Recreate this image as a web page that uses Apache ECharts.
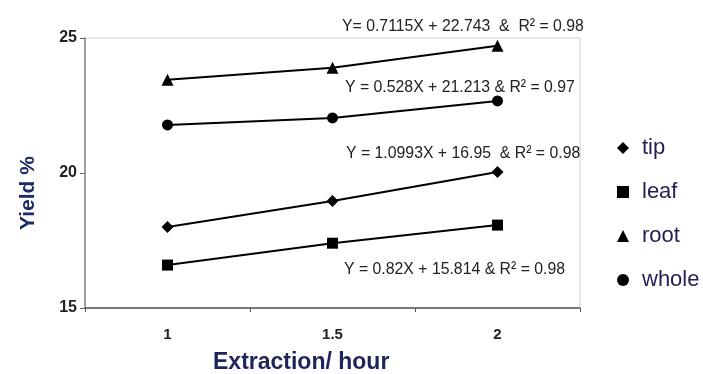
<!DOCTYPE html>
<html>
<head>
<meta charset="utf-8">
<script src="https://cdn.jsdelivr.net/npm/echarts@6/dist/echarts.min.js"></script>
<style>html,body{margin:0;padding:0;background:#fff;}#c{width:703px;height:374px;}</style>
</head>
<body>
<div id="c"></div>
<script>
const categories = ['1', '1.5', '2'];
const tip = [18.0, 18.96, 20.04];
const leaf = [16.59, 17.40, 18.07];
const root = [23.45, 23.90, 24.71];
const whole = [21.78, 22.04, 22.67];
const yTicks = [15, 20, 25];
const equations = [
  'Y= 0.7115X + 22.743  &  R\u00B2 = 0.98',
  'Y = 0.528X + 21.213 & R\u00B2 = 0.97',
  'Y = 1.0993X + 16.95  & R\u00B2 = 0.98',
  'Y = 0.82X + 15.814 & R\u00B2 = 0.98'
];

const chart = echarts.init(document.getElementById('c'), null, {renderer: 'canvas'});
const eqFont = '"Liberation Sans", Arial, sans-serif';
const eqPos = [[342, 18], [345, 79], [346, 145], [344, 261]];
function eqText(i) {
  return {
    type: 'text', x: eqPos[i][0], y: eqPos[i][1], scaleX: 0.93,
    style: { text: equations[i], fill: '#222', font: '17px ' + eqFont }
  };
}
function mk(name, data, symbol, size) {
  return {
    name: name, type: 'line', data: data, symbol: symbol, symbolSize: size,
    lineStyle: {color: '#000', width: 2}, itemStyle: {color: '#000'},
    showAllSymbol: true, animation: false
  };
}
chart.setOption({
  animation: false,
  backgroundColor: '#fff',
  grid: {left: 85, right: 123, top: 38, bottom: 66, show: true, borderColor: '#cfcfcf', borderWidth: 1, backgroundColor: 'transparent'},
  xAxis: {
    type: 'category', data: categories, boundaryGap: true,
    axisLine: {lineStyle: {color: '#555', width: 1.5}},
    axisTick: {show: true, length: 4, lineStyle: {color: '#555'}},
    axisLabel: {color: '#222', fontSize: 15, fontWeight: 'bold', fontFamily: 'Liberation Sans, Arial, sans-serif', margin: 19},
    splitLine: {show: false}
  },
  yAxis: {
    type: 'value', min: 15, max: 25, interval: 5,
    axisLine: {show: true, lineStyle: {color: '#888', width: 1.5}},
    axisTick: {show: true, length: 5, lineStyle: {color: '#666'}},
    axisLabel: {color: '#222', fontSize: 16, fontWeight: 'bold', fontFamily: 'Liberation Sans, Arial, sans-serif', margin: 8,
      formatter: v => yTicks.includes(v) ? String(v) : ''},
    splitLine: {show: false}
  },
  legend: {
    orient: 'vertical', left: 612, top: 131, itemGap: 20, itemWidth: 12, itemHeight: 12,
    textStyle: {color: '#211f55', fontSize: 22, fontFamily: 'Liberation Sans, Arial, sans-serif', lineHeight: 24, padding: [0, 0, 0, 8]},
    data: [
      {name: 'tip', icon: 'diamond'},
      {name: 'leaf', icon: 'rect'},
      {name: 'root', icon: 'triangle'},
      {name: 'whole', icon: 'circle'}
    ]
  },
  series: [
    mk('tip', tip, 'diamond', 12),
    mk('leaf', leaf, 'rect', 11),
    mk('root', root, 'triangle', 12),
    mk('whole', whole, 'circle', 11)
  ],
  graphic: [
    eqText(0), eqText(1), eqText(2), eqText(3),
    {type: 'text', left: 213, top: 351, style: {text: 'Extraction/ hour', fill: '#1e2559', font: 'bold 23px "Liberation Sans", Arial, sans-serif'}},
    {type: 'text', x: 18, y: 230, rotation: Math.PI / 2, style: {text: 'Yield %', fill: '#1e2a66', font: 'bold 21px "Liberation Sans", Arial, sans-serif'}}
  ]
});
</script>
</body>
</html>
